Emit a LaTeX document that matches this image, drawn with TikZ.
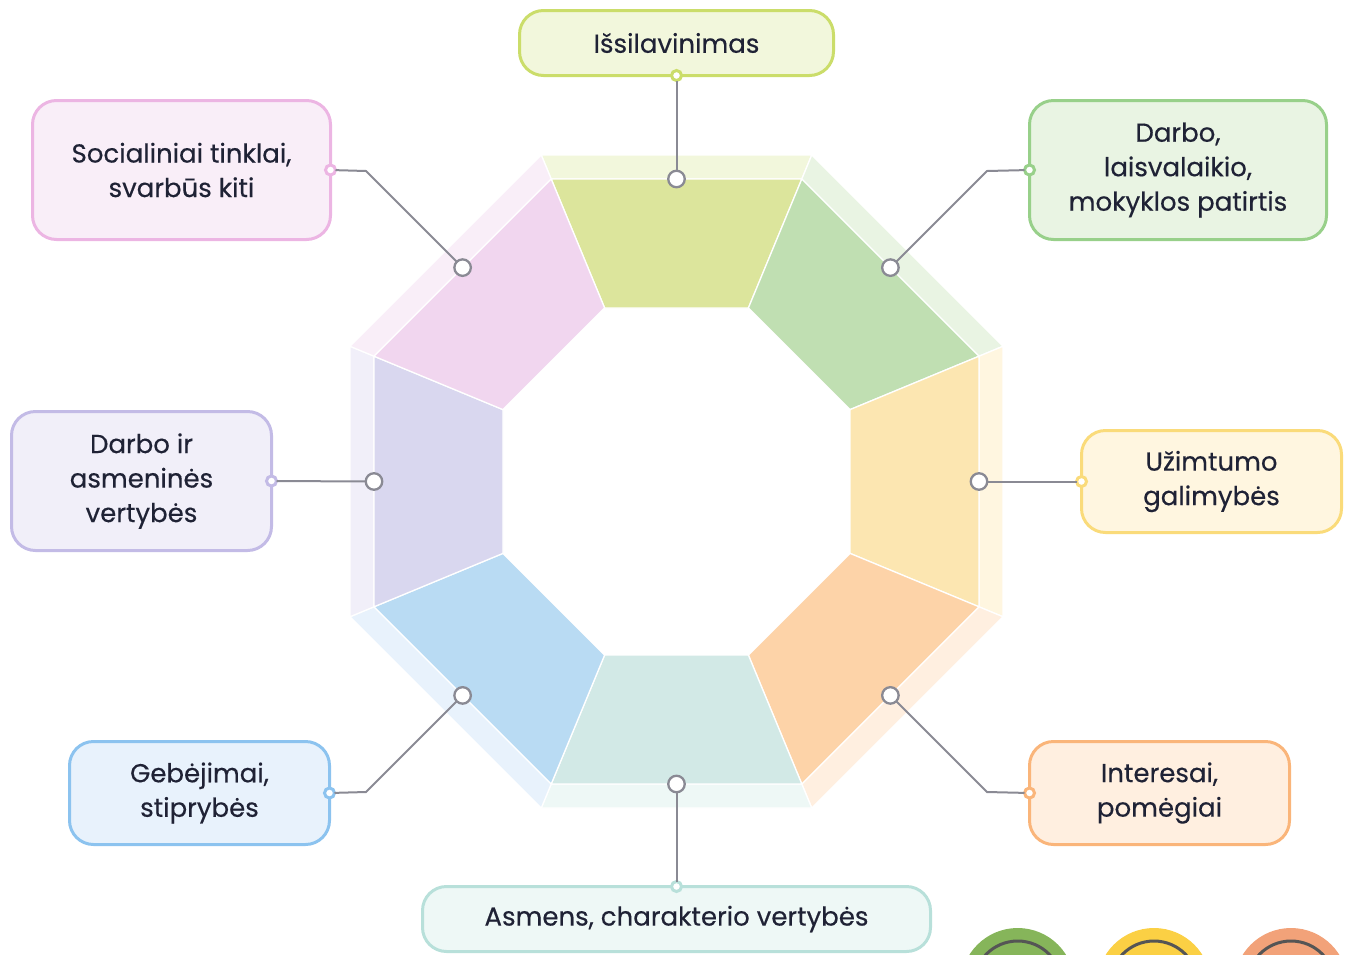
\documentclass[tikz,border=0pt]{standalone}
\usepackage{fontspec}
\setmainfont{Poppins}[FakeBold=0.35]
\begin{document}
\begin{tikzpicture}[x=1pt,y=-1pt,
  txt/.style={text=textdark,font=\fontsize{26}{34.5}\selectfont,align=center},
  box/.style={txt,rounded corners=24pt,line width=3pt,inner sep=0pt,outer sep=0pt},
  dot/.style={circle,fill=white,line width=3pt,minimum size=10pt,inner sep=0pt,outer sep=0pt},
  pin/.style={circle,fill=white,draw=conngray,line width=2.3pt,minimum size=16.5pt,inner sep=0pt,outer sep=0pt},
  conn/.style={draw=conngray,line width=2pt},
  seg/.style={draw=white,line width=1.3pt,line join=round}]
\definecolor{textdark}{HTML}{1F2235}
\definecolor{conngray}{HTML}{8A8A94}
\definecolor{lA}{HTML}{F2F7DC}\definecolor{dA}{HTML}{DCE59C}\definecolor{bA}{HTML}{CBDD6A}
\definecolor{lB}{HTML}{E9F4E3}\definecolor{dB}{HTML}{C0DFB2}\definecolor{bB}{HTML}{98D08A}
\definecolor{lC}{HTML}{FFF6E0}\definecolor{dC}{HTML}{FCE6B1}\definecolor{bC}{HTML}{FADB7A}
\definecolor{lD}{HTML}{FFEFE0}\definecolor{dD}{HTML}{FDD3A8}\definecolor{bD}{HTML}{FAB57A}
\definecolor{lE}{HTML}{EEF8F6}\definecolor{dE}{HTML}{D2E9E6}\definecolor{bE}{HTML}{B8E0DA}
\definecolor{lF}{HTML}{E8F2FC}\definecolor{dF}{HTML}{B9DBF3}\definecolor{bF}{HTML}{8CC3EF}
\definecolor{lG}{HTML}{F1EFF9}\definecolor{dG}{HTML}{D9D7EF}\definecolor{bG}{HTML}{C3BBE6}
\definecolor{lH}{HTML}{F9EEF8}\definecolor{dH}{HTML}{F1D6EF}\definecolor{bH}{HTML}{ECB5E3}
\definecolor{cgreen}{HTML}{86B55A}\definecolor{cyellow}{HTML}{FBD044}\definecolor{corange}{HTML}{F2A279}
\definecolor{ringgray}{HTML}{555555}
\useasboundingbox (0,0) rectangle (1352,954);
% octagon wheel
\begin{scope}[shift={(676.5,481.5)}]
\foreach \a/\l/\d in {-90/lA/dA,-45/lB/dB,0/lC/dC,45/lD/dD,90/lE/dE,135/lF/dF,180/lG/dG,225/lH/dH}{
  \filldraw[seg,fill=\l] (\a-22.5:353.4) -- (\a+22.5:353.4) -- (\a+22.5:327.4) -- (\a-22.5:327.4) -- cycle;
  \filldraw[seg,fill=\d] (\a-22.5:327.4) -- (\a+22.5:327.4) -- (\a+22.5:187.8) -- (\a-22.5:187.8) -- cycle;
}
\end{scope}
% boxes
\node[box,draw=bA,fill=lA,minimum width=314pt,minimum height=65pt] (b1) at (676.5,43) {Išsilavinimas};
\node[box,draw=bH,fill=lH,minimum width=298pt,minimum height=139pt] (b2) at (181.5,170) {Socialiniai tinklai,\\svarbūs kiti};
\node[box,draw=bB,fill=lB,minimum width=297pt,minimum height=139pt] (b3) at (1178,170) {Darbo,\\laisvalaikio,\\mokyklos patirtis};
\node[box,draw=bG,fill=lG,minimum width=260pt,minimum height=139pt] (b4) at (141.5,481) {Darbo ir\\asmeninės\\vertybės};
\node[box,draw=bC,fill=lC,minimum width=260pt,minimum height=102pt] (b5) at (1211.5,481.5) {Užimtumo\\galimybės};
\node[box,draw=bF,fill=lF,minimum width=260pt,minimum height=103pt] (b6) at (199.5,793) {Gebėjimai,\\stiprybės};
\node[box,draw=bD,fill=lD,minimum width=260pt,minimum height=103pt] (b7) at (1159.5,793) {Interesai,\\pomėgiai};
\node[box,draw=bE,fill=lE,minimum width=508pt,minimum height=65pt] (b8) at (676.5,919) {Asmens, charakterio vertybės};
% box dots
\node[dot,draw=bA] (d1) at (b1.south) {};
\node[dot,draw=bH] (d2) at (b2.east) {};
\node[dot,draw=bB] (d3) at (b3.west) {};
\node[dot,draw=bG] (d4) at (b4.east) {};
\node[dot,draw=bC] (d5) at (b5.west) {};
\node[dot,draw=bF] (d6) at (b6.east) {};
\node[dot,draw=bD] (d7) at (b7.west) {};
\node[dot,draw=bE] (d8) at (b8.north) {};
% pins on the wheel
\node[pin] (p1) at (676.5,179) {};
\node[pin] (p2) at (462.6,267.6) {};
\node[pin] (p3) at (890.4,267.6) {};
\node[pin] (p4) at (374,481.5) {};
\node[pin] (p5) at (979,481.5) {};
\node[pin] (p6) at (462.6,695.4) {};
\node[pin] (p7) at (890.4,695.4) {};
\node[pin] (p8) at (676.5,784) {};
% bends
\coordinate (k2) at (366,171);
\coordinate (k3) at (987,171);
\coordinate (k6) at (366,792);
\coordinate (k7) at (987,792);
% connectors
\draw[conn] (p1) -- (d1);
\draw[conn] (p2) -- (k2) -- (d2);
\draw[conn] (p3) -- (k3) -- (d3);
\draw[conn] (p4) -- (d4);
\draw[conn] (p5) -- (d5);
\draw[conn] (p6) -- (k6) -- (d6);
\draw[conn] (p7) -- (k7) -- (d7);
\draw[conn] (p8) -- (d8);
% coloured discs at bottom right
\begin{scope}
\clip (0,0) rectangle (1352,954);
\fill[cgreen] (1017.7,985) circle (57);
\draw[ringgray,line width=3pt] (1017.7,985) circle (44);
\fill[cyellow] (1154,985) circle (57);
\draw[ringgray,line width=3pt] (1154,985) circle (44);
\fill[corange] (1291,985) circle (57);
\draw[ringgray,line width=3pt] (1291,985) circle (44);
\end{scope}
\end{tikzpicture}
\end{document}
